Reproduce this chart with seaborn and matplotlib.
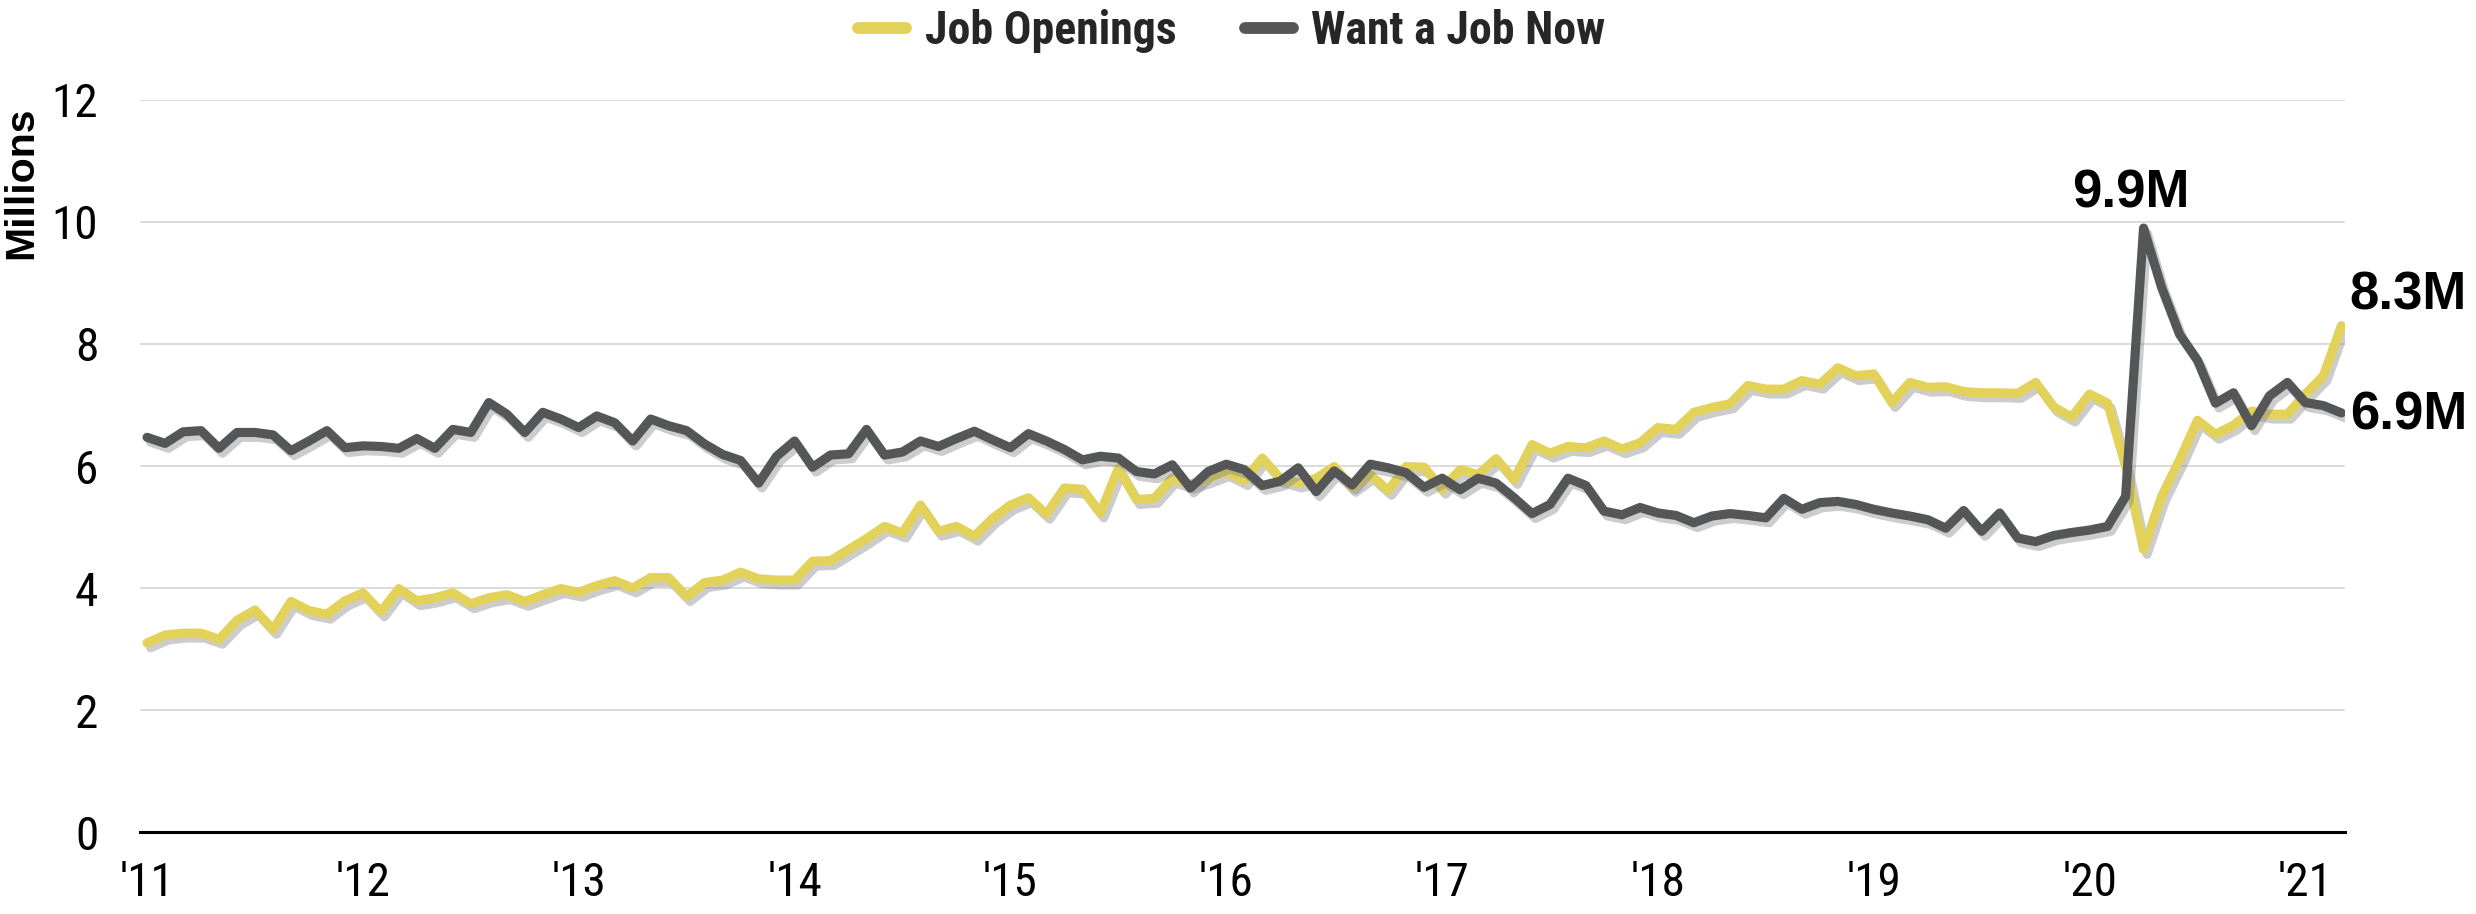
import numpy as np
import pandas as pd
import matplotlib
matplotlib.use("Agg")
import matplotlib.pyplot as plt
import matplotlib.patheffects as pe
from matplotlib import font_manager as fm
from matplotlib.lines import Line2D
import seaborn as sns

# Monthly values in millions, Jan 2011 through Mar 2021
job_openings = [
    3.10, 3.23, 3.26, 3.26, 3.16, 3.47, 3.64, 3.32, 3.78, 3.63, 3.57, 3.79,
    3.92, 3.61, 3.99, 3.79, 3.84, 3.92, 3.74, 3.84, 3.89, 3.78, 3.89, 3.99,
    3.93, 4.04, 4.12, 4.00, 4.17, 4.17, 3.86, 4.09, 4.13, 4.26, 4.15, 4.13,
    4.13, 4.44, 4.45, 4.63, 4.81, 5.01, 4.90, 5.36, 4.93, 5.01, 4.85, 5.14,
    5.36, 5.48, 5.21, 5.64, 5.62, 5.23, 5.96, 5.45, 5.47, 5.80, 5.70, 5.80,
    5.91, 5.76, 6.13, 5.80, 5.72, 5.80, 5.99, 5.65, 5.86, 5.60, 5.99, 5.98,
    5.62, 5.94, 5.86, 6.12, 5.78, 6.35, 6.21, 6.32, 6.30, 6.41, 6.28, 6.38,
    6.63, 6.60, 6.88, 6.96, 7.02, 7.32, 7.26, 7.26, 7.40, 7.34, 7.61, 7.48,
    7.51, 7.04, 7.37, 7.29, 7.30, 7.22, 7.20, 7.20, 7.19, 7.37, 6.97, 6.80,
    7.18, 7.03, 6.00, 4.63, 5.50, 6.10, 6.75, 6.52, 6.67, 6.90, 6.85, 6.85,
    7.18, 7.48, 8.30,
]
want_a_job_now = [
    6.47, 6.37, 6.56, 6.58, 6.29, 6.55, 6.55, 6.51, 6.25, 6.41, 6.58, 6.30,
    6.33, 6.32, 6.29, 6.45, 6.29, 6.60, 6.55, 7.04, 6.85, 6.55, 6.88, 6.77,
    6.63, 6.82, 6.71, 6.41, 6.77, 6.66, 6.58, 6.36, 6.19, 6.09, 5.72, 6.16,
    6.41, 5.98, 6.18, 6.20, 6.60, 6.18, 6.23, 6.41, 6.32, 6.45, 6.57, 6.43,
    6.30, 6.53, 6.41, 6.27, 6.10, 6.16, 6.13, 5.91, 5.87, 6.02, 5.64, 5.91,
    6.03, 5.94, 5.68, 5.75, 5.97, 5.58, 5.92, 5.69, 6.03, 5.97, 5.89, 5.65,
    5.80, 5.61, 5.80, 5.72, 5.48, 5.22, 5.37, 5.80, 5.68, 5.26, 5.20, 5.32,
    5.23, 5.19, 5.07, 5.18, 5.22, 5.19, 5.15, 5.47, 5.29, 5.40, 5.42, 5.37,
    5.29, 5.23, 5.18, 5.12, 4.98, 5.27, 4.93, 5.23, 4.82, 4.76, 4.86, 4.91,
    4.95, 5.01, 5.50, 9.90, 8.93, 8.16, 7.73, 7.03, 7.20, 6.66, 7.15, 7.37,
    7.04, 6.99, 6.87,
]
series_names = ["Job Openings", "Want a Job Now"]
series_colors = ["#E2D25A", "#545658"]
year_labels = ["'11", "'12", "'13", "'14", "'15", "'16", "'17", "'18", "'19", "'20", "'21"]
y_ticks = [0, 2, 4, 6, 8, 10, 12]

months = np.arange(len(job_openings))
df = pd.concat([
    pd.DataFrame({"month": months, "value": job_openings, "series": series_names[0]}),
    pd.DataFrame({"month": months, "value": want_a_job_now, "series": series_names[1]}),
], ignore_index=True)

sns.set_style("white")
installed = {f.name for f in fm.fontManager.ttflist}


def pick(*names):
    for n in names:
        if n in installed:
            return n
    return "DejaVu Sans"


narrow = pick("Liberation Sans Narrow", "Arial Narrow", "Roboto Condensed", "DejaVu Sans")
narrow_stretch = "condensed" if narrow == "DejaVu Sans" else "normal"
wide = pick("Liberation Sans", "Arial", "DejaVu Sans")
plt.rcParams["font.family"] = [narrow, "DejaVu Sans"]
plt.rcParams["font.stretch"] = narrow_stretch

fig = plt.figure(figsize=(24.76, 9.14), dpi=100)
ax = fig.add_axes([0.0565, 0.0897, 0.8906, 0.8009])

sns.lineplot(
    data=df, x="month", y="value", hue="series",
    palette=dict(zip(series_names, series_colors)),
    linewidth=6.6, legend=False, sort=False, ax=ax,
)
for line in ax.get_lines():
    line.set_solid_capstyle("round")
    line.set_solid_joinstyle("round")
    line.set_path_effects([
        pe.SimpleLineShadow(offset=(2.5, -3.5), shadow_color="#808080", alpha=0.4),
        pe.Normal(),
    ])

ax.set_xlim(-0.4, 122.2)
ax.set_ylim(0, 12)
ax.set_xticks(np.arange(0, 121, 12))
ax.set_xticklabels(year_labels)
ax.set_yticks(y_ticks)
ax.set_yticklabels([str(t) for t in y_ticks])
ax.tick_params(axis="x", length=0, pad=21, labelsize=34, colors="black")
ax.tick_params(axis="y", length=0, pad=30, labelsize=34, colors="black")
ax.set_xlabel("")
ax.set_ylabel("")

ax.yaxis.grid(True, color="#d9d9d9", linewidth=1.3)
ax.xaxis.grid(False)
ax.set_axisbelow(True)
for side in ("left", "right", "top"):
    ax.spines[side].set_visible(False)
ax.spines["bottom"].set_color("black")
ax.spines["bottom"].set_linewidth(2.2)
ax.spines["bottom"].set_zorder(1)

label_font = dict(family=[wide, "DejaVu Sans"], fontweight="bold", fontsize=38,
                  color="black", annotation_clip=False)

peak_idx = int(np.argmax(want_a_job_now))
ax.annotate(f"{want_a_job_now[peak_idx]:.1f}M", xy=(peak_idx, want_a_job_now[peak_idx]),
            xytext=(-9, 15), textcoords="offset points", ha="center", va="baseline",
            **label_font)
last = len(months) - 1
ax.annotate(f"{job_openings[last]:.1f}M", xy=(last, job_openings[last]),
            xytext=(6, 22), textcoords="offset points", ha="left", va="center",
            **label_font)
ax.annotate(f"{want_a_job_now[last]:.1f}M", xy=(last, want_a_job_now[last]),
            xytext=(6, -2), textcoords="offset points", ha="left", va="center",
            **label_font)

fig.text(0.0085, 0.800, "Millions", rotation=90, ha="center", va="center",
         family=[wide, "DejaVu Sans"], fontweight="bold", fontsize=29.5,
         stretch="normal", color="black")

handles = [Line2D([0], [0], color=c, lw=8.5, solid_capstyle="round") for c in series_colors]
fig.legend(handles, series_names, loc="center", bbox_to_anchor=(0.4975, 0.966), ncol=2,
           frameon=False, handlelength=1.05, handletextpad=0.4, columnspacing=1.5,
           prop=dict(family=[narrow, "DejaVu Sans"], weight="bold", size=33,
                     stretch=narrow_stretch))

fig.savefig("out.png", dpi=100)
